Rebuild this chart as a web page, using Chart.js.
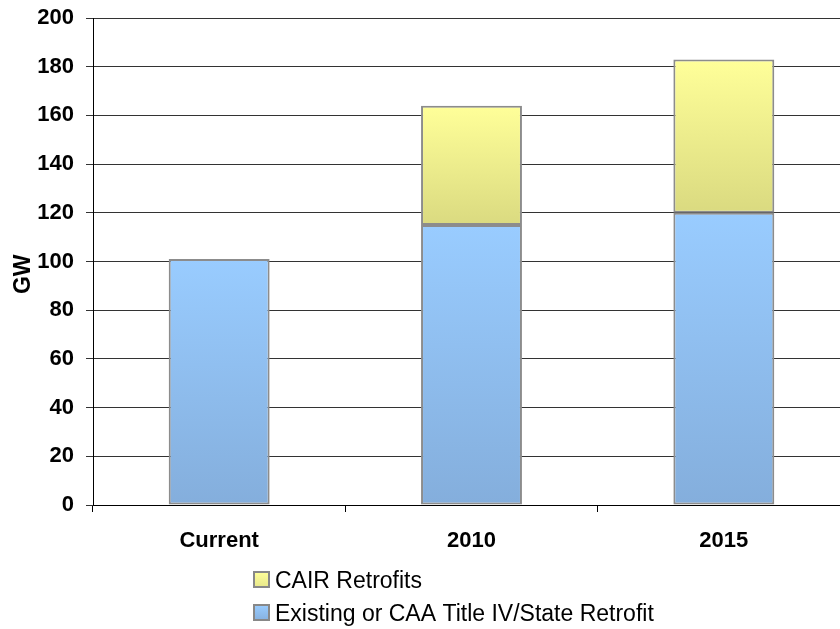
<!DOCTYPE html>
<html>
<head>
<meta charset="utf-8">
<script src="https://cdn.jsdelivr.net/npm/chart.js@4.4.1/dist/chart.umd.min.js"></script>
<style>
  html, body { margin: 0; padding: 0; background: #fff; overflow: hidden; }
  canvas { display: block; }
</style>
</head>
<body>
<canvas id="retrofitChart" width="850" height="629"></canvas>
<script>
const categories = ["Current", "2010", "2015"];
const existingRetrofit = [101, 115, 120];
const cairRetrofit = [0, 49, 63];
const yTicks = [0, 20, 40, 60, 80, 100, 120, 140, 160, 180, 200];

const FONT = "'Liberation Sans', Arial, sans-serif";

// vertical gradient spanning one bar segment, light on top, darker at the base
function barGradient(ctx, topColor, bottomColor, lowValues, highValues) {
  const chart = ctx.chart;
  const y = chart.scales.y;
  if (!chart.chartArea || !y) return topColor;
  const i = ctx.dataIndex;
  const top = y.getPixelForValue(highValues[i]);
  const bottom = y.getPixelForValue(lowValues[i]);
  if (!isFinite(top) || !isFinite(bottom) || top === bottom) return topColor;
  const g = chart.ctx.createLinearGradient(0, top, 0, bottom);
  g.addColorStop(0, topColor);
  g.addColorStop(1, bottomColor);
  return g;
}

const totals = existingRetrofit.map((v, i) => v + cairRetrofit[i]);
const zeros = existingRetrofit.map(() => 0);

// two-row legend under the axis, drawn in the chart's own canvas
const stackedLegend = {
  id: "stackedLegend",
  afterDraw(chart) {
    const ctx = chart.ctx;
    const items = [
      { label: chart.data.datasets[1].label, top: "#ffff99", bottom: "#e6e68a" },
      { label: chart.data.datasets[0].label, top: "#99ccff", bottom: "#86b0de" },
    ];
    ctx.save();
    ctx.font = "23px " + FONT;
    ctx.textBaseline = "alphabetic";
    ctx.fillStyle = "#000";
    items.forEach((item, k) => {
      const rowY = 588 + k * 33;
      const g = ctx.createLinearGradient(0, rowY - 16, 0, rowY);
      g.addColorStop(0, item.top);
      g.addColorStop(1, item.bottom);
      ctx.fillStyle = g;
      ctx.fillRect(254, rowY - 16, 15, 15);
      ctx.strokeStyle = "#888";
      ctx.lineWidth = 2;
      ctx.strokeRect(254, rowY - 16, 15, 15);
      ctx.fillStyle = "#000";
      ctx.fillText(item.label, 275, rowY);
    });
    ctx.restore();
  },
};

new Chart(document.getElementById("retrofitChart").getContext("2d"), {
  type: "bar",
  data: {
    labels: categories,
    datasets: [
      {
        label: "Existing or CAA Title IV/State Retrofit",
        data: existingRetrofit,
        backgroundColor: (ctx) => barGradient(ctx, "#99ccff", "#84aedc", zeros, existingRetrofit),
        borderColor: "#8c8c8c",
        borderWidth: 2,
        borderSkipped: false,
      },
      {
        label: "CAIR Retrofits",
        data: cairRetrofit,
        backgroundColor: (ctx) => barGradient(ctx, "#ffff99", "#dada80", existingRetrofit, totals),
        borderColor: "#8c8c8c",
        borderWidth: 2,
        borderSkipped: false,
      },
    ],
  },
  options: {
    responsive: false,
    animation: false,
    layout: { padding: { top: 18, right: 0, left: 0, bottom: 0 } },
    datasets: {
      bar: { barPercentage: 0.4, categoryPercentage: 1 },
    },
    plugins: {
      legend: { display: false },
      tooltip: { enabled: false },
    },
    scales: {
      x: {
        stacked: true,
        grid: {
          offset: true,
          drawOnChartArea: false,
          tickLength: 7,
          color: "#000",
        },
        border: { color: "#000", width: 1 },
        ticks: {
          color: "#000",
          padding: 16,
          font: { family: FONT, size: 22, weight: "bold" },
        },
        afterFit: (scale) => { scale.height = 124; },
      },
      y: {
        stacked: true,
        min: 0,
        max: 200,
        afterBuildTicks: (scale) => { scale.ticks = yTicks.map((v) => ({ value: v })); },
        grid: { color: "#333", tickLength: 7, lineWidth: 1 },
        border: { color: "#000", width: 1 },
        ticks: {
          color: "#000",
          padding: 12,
          font: { family: FONT, size: 22, weight: "bold" },
        },
        title: {
          display: true,
          // trailing spaces nudge the rotated label a little below centre
          text: "GW    ",
          color: "#000",
          padding: { top: 10, bottom: 0 },
          font: { family: FONT, size: 23, weight: "bold" },
        },
        afterFit: (scale) => {
          scale.width = 93;
          scale.paddingTop = 0;
          scale.paddingBottom = 0;
        },
      },
    },
  },
  plugins: [stackedLegend],
});
</script>
</body>
</html>
